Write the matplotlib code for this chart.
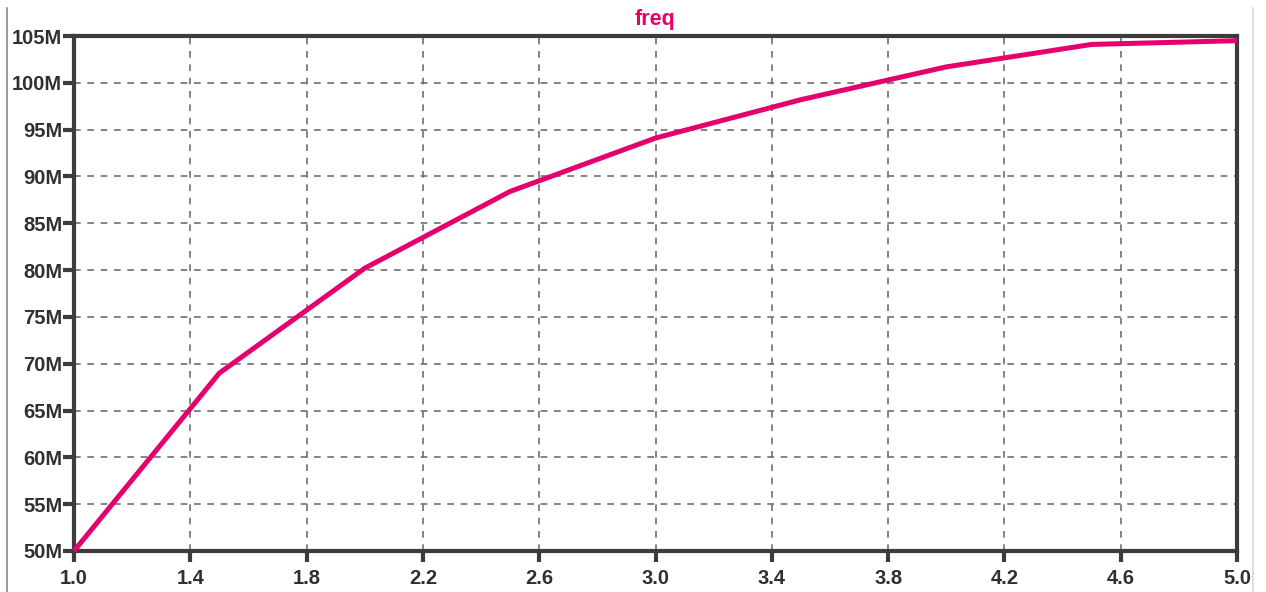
import matplotlib
matplotlib.use("Agg")
import matplotlib.pyplot as plt
from matplotlib.ticker import FuncFormatter, MultipleLocator

# Sweep of control voltage vs. oscillation frequency
sweep_v = [1.0, 1.5, 2.0, 2.5, 3.0, 3.5, 4.0, 4.5, 5.0]
freq_mhz = [50.0, 69.0, 80.2, 88.4, 94.1, 98.2, 101.7, 104.1, 104.5]

x_ticks = [1.0, 1.4, 1.8, 2.2, 2.6, 3.0, 3.4, 3.8, 4.2, 4.6, 5.0]

W, H = 1266, 592
fig = plt.figure(figsize=(W / 100, H / 100), dpi=100)
fig.patch.set_facecolor("white")

ax = fig.add_axes([74 / W, 1 - 551 / H, (1237 - 74) / W, (551 - 36) / H])

trace_color = "#E5006E"
frame_color = "#3c3c3c"

ax.plot(sweep_v, freq_mhz, color=trace_color, lw=3.6, solid_joinstyle="round",
        solid_capstyle="butt", zorder=3, clip_on=False)

ax.set_xlim(1.0, 5.0)
ax.set_ylim(50, 105)
ax.set_xticks(x_ticks)
ax.yaxis.set_major_locator(MultipleLocator(5))
ax.xaxis.set_major_formatter(FuncFormatter(lambda v, p: f"{v:.1f}"))
ax.yaxis.set_major_formatter(FuncFormatter(lambda v, p: f"{v:.0f}M"))

ax.grid(True, color="#707070", linestyle=(0, (4, 4)), linewidth=1.2)
ax.set_axisbelow(True)

for s in ax.spines.values():
    s.set_color(frame_color)
    s.set_linewidth(3)

label_family = ["Liberation Sans", "DejaVu Sans"]
ax.tick_params(axis="both", direction="out", length=8, width=3, color=frame_color,
               labelcolor="#303030")
ax.tick_params(axis="y", pad=0.5)
ax.tick_params(axis="x", pad=5)
for lbl in ax.get_xticklabels() + ax.get_yticklabels():
    lbl.set_fontfamily(label_family)
    lbl.set_fontsize(14.5)
    lbl.set_fontweight("bold")

fig.text(655 / W, 1 - 20 / H, "freq", color=trace_color, ha="center", va="center",
         fontsize=15.5, fontweight="bold", family=label_family)

# window borders
fig.add_artist(plt.Line2D([7.5 / W, 7.5 / W], [0, 1 - 8 / H], color="#8a8a8a", lw=1.2))
fig.add_artist(plt.Line2D([1253 / W, 1253 / W], [0, 1 - 8 / H], color="#d8d8d8", lw=1.2))

fig.savefig("out.png", dpi=100, facecolor="white")
